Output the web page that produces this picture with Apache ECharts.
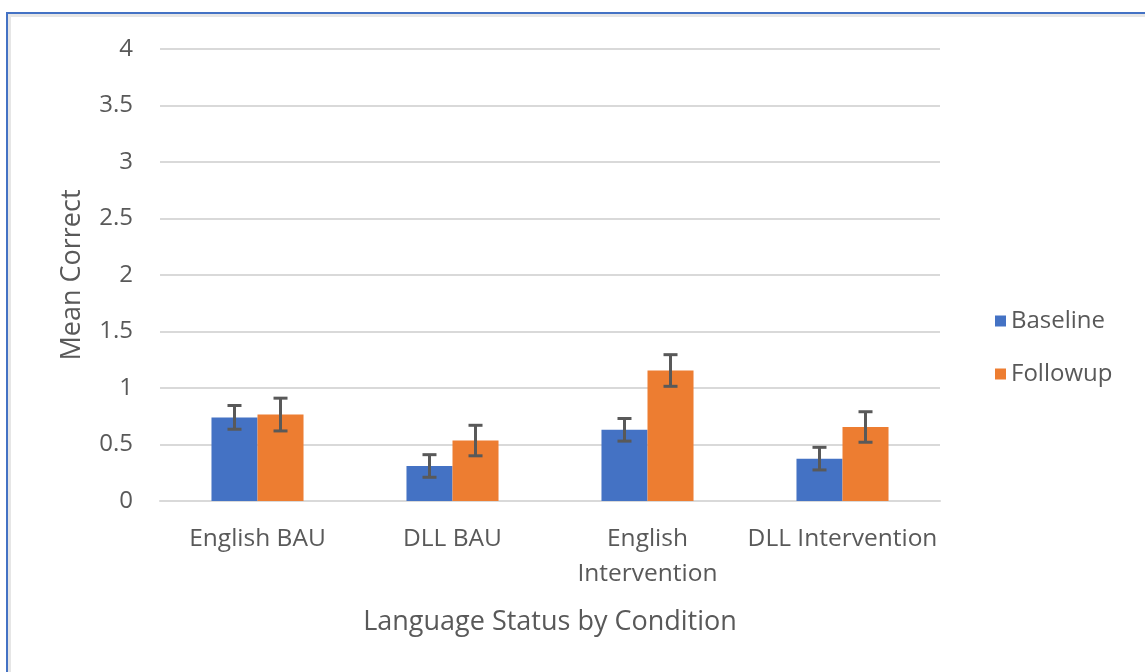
<!DOCTYPE html>
<html>
<head>
<meta charset="utf-8">
<script src="https://cdn.jsdelivr.net/npm/echarts@6/dist/echarts.min.js"></script>
<style>
  html, body { margin: 0; padding: 0; background: #fff; }
  #chart { width: 1145px; height: 672px; }
  /* blue frame of the pasted chart, only top and left are visible */
  #frame {
    position: absolute; left: 6px; top: 12px; right: -10px; bottom: -10px;
    border-left: 2px solid #4472c4; border-top: 2px solid #4472c4;
    box-shadow: inset 3px 3px 0 #e6e6e6;
    pointer-events: none;
  }
</style>
</head>
<body>
<div id="chart"></div>
<div id="frame"></div>
<script>
const categories = ['English BAU', 'DLL BAU', 'English\nIntervention', 'DLL Intervention']
const seriesNames = ['Baseline', 'Followup']
const baseline = [0.74, 0.31, 0.63, 0.375]
const followup = [0.765, 0.535, 1.155, 0.655]
const baselineErr = [0.105, 0.10, 0.10, 0.10]
const followupErr = [0.145, 0.135, 0.14, 0.135]

const textColor = '#595959'
const font = '"Open Sans", "Liberation Sans", sans-serif'

// error bar series: value = [categoryIndex, low, high]
function errData(vals, errs) {
  return vals.map((v, i) => [i, v - errs[i], v + errs[i]])
}
function errSeries(vals, errs, side) {
  return {
    type: 'custom',
    silent: true,
    z: 10,
    renderItem: function (params, api) {
      const band = api.size([1, 0])[0]
      const off = side * band * 0.118
      const hi = api.coord([api.value(0), api.value(2)])
      const lo = api.coord([api.value(0), api.value(1)])
      const x = hi[0] + off
      const cap = 7
      const style = { stroke: textColor, lineWidth: 3 }
      return {
        type: 'group',
        children: [
          { type: 'line', shape: { x1: x, y1: hi[1], x2: x, y2: lo[1] }, style: style },
          { type: 'line', shape: { x1: x - cap, y1: hi[1], x2: x + cap, y2: hi[1] }, style: style },
          { type: 'line', shape: { x1: x - cap, y1: lo[1], x2: x + cap, y2: lo[1] }, style: style }
        ]
      }
    },
    encode: { x: 0, y: [1, 2] },
    data: errData(vals, errs)
  }
}

const chart = echarts.init(document.getElementById('chart'))
chart.setOption({
  animation: false,
  textStyle: { fontFamily: font },
  grid: { left: 160, right: 205, top: 49, bottom: 171 },
  legend: {
    data: seriesNames,
    icon: 'rect',
    orient: 'vertical',
    left: 990,
    top: 304,
    itemWidth: 11,
    itemHeight: 11,
    itemGap: 29,
    textStyle: { color: textColor, fontSize: 24, fontFamily: font }
  },
  xAxis: {
    type: 'category',
    data: categories,
    name: 'Language Status by Condition',
    nameLocation: 'middle',
    nameGap: 108,
    nameTextStyle: { color: textColor, fontSize: 27, fontFamily: font },
    axisLine: { lineStyle: { color: '#d9d9d9', width: 2 } },
    axisTick: { show: false },
    axisLabel: { interval: 0, color: textColor, fontSize: 24.5, margin: 21, lineHeight: 35, fontFamily: font }
  },
  yAxis: {
    type: 'value',
    min: 0,
    max: 4,
    interval: 0.5,
    name: 'Mean Correct',
    nameLocation: 'middle',
    nameGap: 74,
    nameTextStyle: { color: textColor, fontSize: 27, fontFamily: font },
    axisLabel: { color: textColor, fontSize: 24, margin: 27, fontFamily: font },
    splitLine: { lineStyle: { color: '#d9d9d9', width: 2 } }
  },
  series: [
    { name: seriesNames[0], type: 'bar', data: baseline, barWidth: '23.6%', barGap: '0%', itemStyle: { color: '#4472c4' } },
    { name: seriesNames[1], type: 'bar', data: followup, barWidth: '23.6%', itemStyle: { color: '#ed7d31' } },
    errSeries(baseline, baselineErr, -1),
    errSeries(followup, followupErr, 1)
  ]
})
</script>
</body>
</html>
